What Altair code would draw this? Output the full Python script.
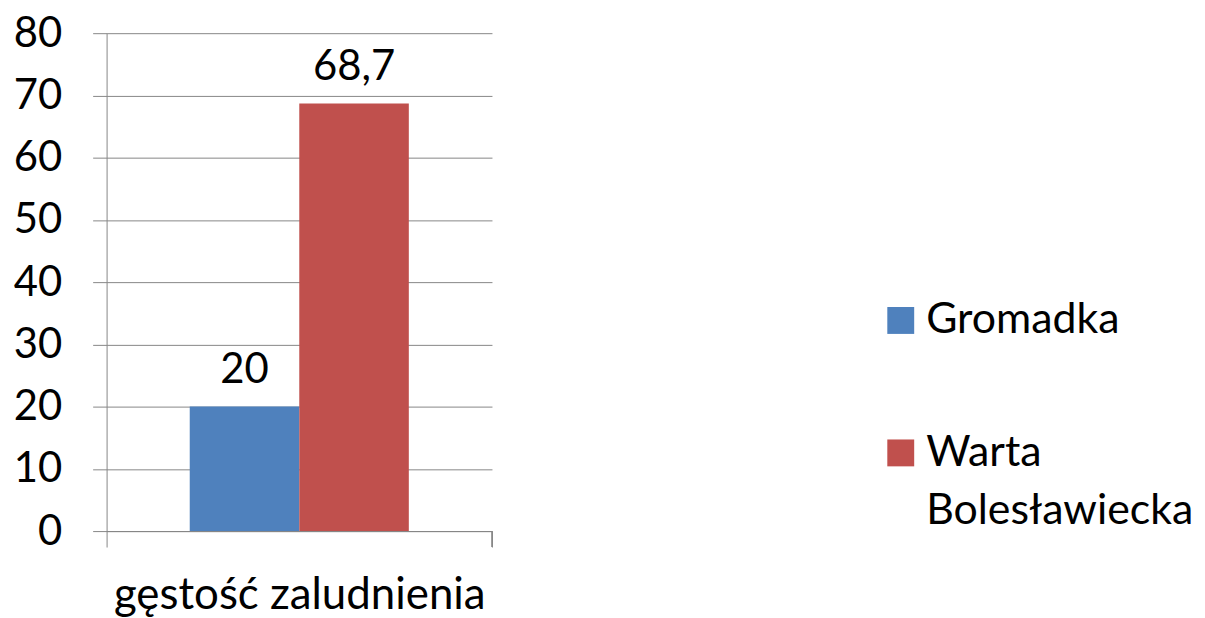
import altair as alt
import pandas as pd

categories = ["gęstość zaludnienia"]
series = ["Gromadka", "Warta Bolesławiecka"]
values = [20, 68.7]
colors = ["#4F81BD", "#C0504D"]
y_ticks = [0, 10, 20, 30, 40, 50, 60, 70, 80]

df = pd.DataFrame({
    "kategoria": [categories[0]] * len(series),
    "seria": series,
    "wartosc": values,
})

FONT = "Lato"
GRID = "#868686"

x_enc = alt.X(
    "kategoria:N",
    scale=alt.Scale(paddingInner=0, paddingOuter=0),
    axis=alt.Axis(
        title=None, labelAngle=0, labelFontSize=44, labelFont=FONT, labelColor="black",
        labelLineHeight=44,
        tickBand="extent", tickSize=16, tickColor=GRID, domainColor=GRID,
        labelPadding=27, grid=False, labelLimit=0,
    ),
)
xoff_enc = alt.XOffset(
    "seria:N", sort=series,
    scale=alt.Scale(paddingInner=0, paddingOuter=0.759),
)
y_enc = alt.Y(
    "wartosc:Q",
    scale=alt.Scale(domain=[0, 80], nice=False),
    axis=alt.Axis(
        title=None, values=y_ticks, labelFontSize=42, labelFont=FONT, labelColor="black",
        labelLineHeight=42,
        tickSize=14, tickColor=GRID, domainColor=GRID, gridColor=GRID,
        labelPadding=31, grid=True,
    ),
)

bars = alt.Chart(df).mark_bar(size=110).encode(
    x=x_enc,
    xOffset=xoff_enc,
    y=y_enc,
    color=alt.Color(
        "seria:N", sort=series,
        scale=alt.Scale(domain=series, range=colors),
        legend=alt.Legend(
            title=None, orient="none", legendX=776, legendY=267,
            symbolType="square", symbolSize=729, symbolStrokeWidth=0,
            labelFontSize=43, labelFont=FONT, labelColor="black",
            labelExpr="split(datum.label, ' ')", labelLimit=0,
            labelBaseline="middle", rowPadding=89, labelOffset=4,
        ),
    ),
)

labels = alt.Chart(df).transform_calculate(
    etykieta="replace(format(datum.wartosc, '.1~f'), '.', ',')"
).mark_text(baseline="alphabetic", dy=-24, fontSize=42, font=FONT, color="black").encode(
    x=alt.X("kategoria:N"),
    xOffset=alt.XOffset("seria:N", sort=series),
    y=alt.Y("wartosc:Q"),
    text="etykieta:N",
)

right_tick = alt.Chart(df).mark_rule(color=GRID).encode(
    x=alt.value(387), y=alt.value(500), y2=alt.value(516)
)

chart = alt.layer(bars, labels, right_tick).properties(
    width=387, height=500,
    autosize=alt.AutoSizeParams(type="none"),
    padding={"left": 99, "top": 24, "right": 708, "bottom": 86},
).configure(
    style={"guide-label": {"lineHeight": 58}}
).configure_view(stroke=None)

chart.save("out.html", embed_options={"renderer": "svg", "actions": False})
